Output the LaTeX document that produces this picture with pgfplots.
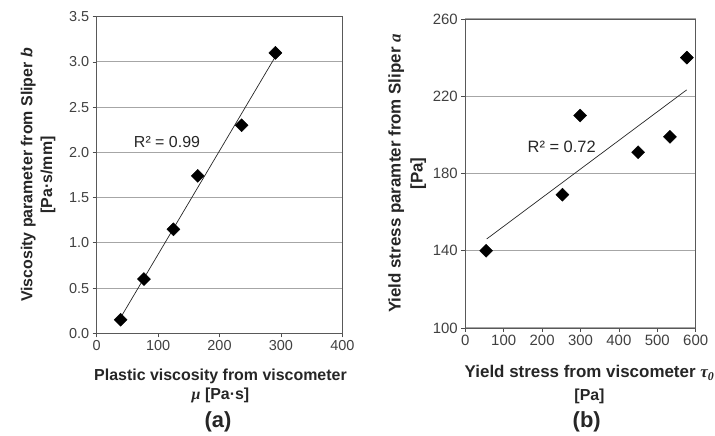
\documentclass[border=0pt]{standalone}
\usepackage{pgfplots}
\pgfplotsset{compat=1.18}
\usepackage{fontspec}
\setmainfont{Liberation Sans}
\newfontfamily\timesfont{Liberation Serif}
\begin{document}
\begin{tikzpicture}
\useasboundingbox (0bp,0bp) rectangle (715bp,436bp);
\pgfplotsset{
  panel/.style={
    scale only axis, anchor=south west, clip=false,
    axis line style={draw=black!65, line width=0.9bp},
    ymajorgrids, grid style={draw=black!35, line width=1bp},
    tick align=outside, tick pos=left,
    major tick length=4bp,
    tick style={draw=black!70, line width=0.8bp},
    ticklabel style={text=black!75},
    /pgf/number format/assume math mode=true,
    every axis x label/.style={at={(axis description cs:0.5,0)}, anchor=north,
      inner sep=0pt, align=center},
    every axis y label/.style={at={(axis description cs:0,0.5)}, rotate=90,
      anchor=south, inner sep=0pt, align=center},
    label style={text=black!85},
  },
  pts/.style={only marks, mark=square*, mark size=4.6bp,
    mark options={rotate=45, fill=black, draw=black}},
  trend/.style={no marks, draw=black!85, line width=0.7bp},
}
% (a) Sliper viscosity parameter vs. plastic viscosity
\begin{axis}[panel,
  at={(96.7bp,102.7bp)}, width=245.6bp, height=316.6bp,
  xmin=0, xmax=400, ymin=0, ymax=3.5,
  xtick={0,100,200,300,400},
  ytick={0,0.5,1.0,1.5,2.0,2.5,3.0,3.5},
  ticklabel style={font=\fontsize{14.5}{16}\selectfont},
  yticklabel style={/pgf/number format/.cd, fixed, fixed zerofill, precision=1},
  xlabel={Plastic viscosity from viscometer\\{\timesfont\bfseries\itshape μ} [Pa·s]},
  xlabel style={yshift=-35bp, xshift=1bp, font=\bfseries\fontsize{16}{20}\selectfont},
  ylabel={Viscosity parameter from Sliper \textit{b}\\{[Pa·s/mm]}},
  ylabel style={yshift=41bp, font=\bfseries\fontsize{16}{20}\selectfont},
]
\addplot[trend] coordinates {(39,0.174) (291,3.059)};
\addplot[pts] coordinates {
  (39,0.15) (77,0.60) (125,1.15) (164.5,1.74) (236,2.30) (291,3.10)
};
\node[font=\fontsize{16}{18}\selectfont, text=black!85] at (axis cs:114.5,2.11) {R² = 0.99};
\end{axis}
% (b) Sliper yield stress parameter vs. viscometer yield stress
\begin{axis}[panel,
  at={(465.3bp,108bp)}, width=230.4bp, height=309bp,
  xmin=0, xmax=600, ymin=100, ymax=260,
  xtick={0,100,200,300,400,500,600},
  ytick={100,140,180,220,260},
  ticklabel style={font=\fontsize{15}{17}\selectfont},
  xlabel={Yield stress from viscometer {\timesfont\bfseries\itshape τ\textsubscript{0}}\\{\fontsize{16}{18}\selectfont [Pa]}},
  xlabel style={yshift=-37bp, xshift=9bp, font=\bfseries\fontsize{17}{23}\selectfont},
  ylabel={Yield stress paramter from Sliper {\timesfont\bfseries\itshape a}\\{[Pa]}},
  ylabel style={yshift=39bp, font=\bfseries\fontsize{17}{22}\selectfont},
]
\addplot[trend] coordinates {(55.7,146.1) (576.5,223.3)};
\addplot[pts] coordinates {
  (54,140) (253,169) (299,210) (450,191) (533,199) (577,240)
};
\node[font=\fontsize{16.5}{18}\selectfont, text=black!85] at (axis cs:251,193.9) {R² = 0.72};
\end{axis}
\node[font=\bfseries\fontsize{22}{24}\selectfont, text=black!85] at (218bp,14.3bp) {(a)};
\node[font=\bfseries\fontsize{22}{24}\selectfont, text=black!85] at (586.7bp,14.3bp) {(b)};
\end{tikzpicture}
\end{document}
